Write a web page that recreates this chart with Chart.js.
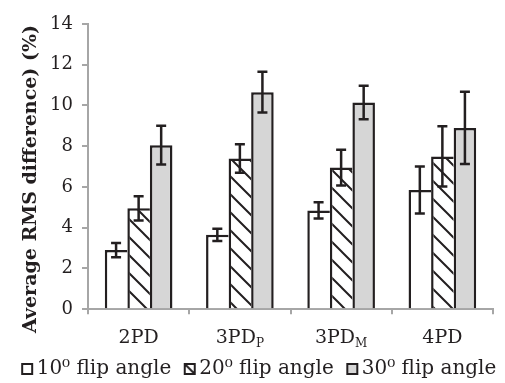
<!DOCTYPE html>
<html>
<head>
<meta charset="utf-8">
<script src="https://cdn.jsdelivr.net/npm/chart.js@4.4.1/dist/chart.umd.min.js"></script>
<style>
  html, body { margin: 0; padding: 0; background: #fff; }
  #wrap { width: 505px; height: 383px; }
</style>
</head>
<body>
<div id="wrap"><canvas id="rmsChart"></canvas></div>
<script>
// categories (base text + subscript) and series
const categoryNames = ['2PD', '3PD', '3PD', '4PD'];
const categorySubs = ['', 'P', 'M', ''];
const seriesLabels = ['10\u2070 flip angle', '20\u2070 flip angle', '30\u2070 flip angle'];

const flip10 = [2.9, 3.65, 4.85, 5.85];
const flip10Err = [0.35, 0.3, 0.4, 1.15];
const flip20 = [4.95, 7.4, 6.95, 7.5];
const flip20Err = [0.6, 0.7, 0.88, 1.48];
const flip30 = [8.05, 10.65, 10.15, 8.9];
const flip30Err = [0.95, 1.0, 0.82, 1.77];

const yTicks = [0, 2, 4, 6, 8, 10, 12, 14];
const yTitle = 'Average RMS difference) (%)';

const INK = '#231f20';
const AXIS = '#a6a6a6';
const GREY = '#d6d6d6';
const SERIF = 'DejaVu Serif';

Chart.defaults.font.family = SERIF;
Chart.defaults.color = INK;

const ctx = document.getElementById('rmsChart').getContext('2d');

// legend spacing: one row, items 163px apart
const LEGEND_FONT = 20;
const LEGEND_GAP = 0;
const LEGEND_STEP = 163;
ctx.font = LEGEND_FONT + 'px ' + SERIF;
const legendTextW = ctx.measureText(seriesLabels[0]).width;
const legendBox = Math.max(1, Math.round(LEGEND_STEP - LEGEND_GAP - LEGEND_FONT / 2 - legendTextW));

// diagonal hatch for the 20° bars
function makeHatch() {
  const s = 18;
  const c = document.createElement('canvas');
  c.width = s; c.height = s;
  const g = c.getContext('2d');
  g.fillStyle = '#fff';
  g.fillRect(0, 0, s, s);
  g.strokeStyle = INK;
  g.lineWidth = 2;
  g.beginPath();
  g.moveTo(-3, -3); g.lineTo(s + 3, s + 3);
  g.moveTo(-3, s - 3); g.lineTo(3, s + 3);
  g.moveTo(s - 3, -3); g.lineTo(s + 3, 3);
  g.stroke();
  return ctx.createPattern(c, 'repeat');
}

// legend square, drawn just left of the text
function makeIcon(fill, hatched) {
  const w = legendBox + 17;
  const c = document.createElement('canvas');
  c.width = w; c.height = 12;
  const g = c.getContext('2d');
  const x0 = legendBox + 4, y0 = 1, s = 10;
  g.fillStyle = fill;
  g.fillRect(x0, y0, s, s);
  g.strokeStyle = INK;
  g.lineWidth = 2;
  if (hatched) {
    g.beginPath();
    g.moveTo(x0, y0); g.lineTo(x0 + s, y0 + s);
    g.stroke();
  }
  g.strokeRect(x0, y0, s, s);
  return c;
}

const hatch = makeHatch();
const icons = [makeIcon('#fff', false), makeIcon('#fff', true), makeIcon(GREY, false)];

// error bars drawn on top of each bar
const errorBars = {
  id: 'errorBars',
  afterDatasetsDraw(chart) {
    const y = chart.scales.y;
    const c = chart.ctx;
    c.save();
    c.strokeStyle = INK;
    c.lineWidth = 2.5;
    chart.data.datasets.forEach((ds, di) => {
      chart.getDatasetMeta(di).data.forEach((bar, i) => {
        const hi = y.getPixelForValue(ds.data[i] + ds.errors[i]);
        const lo = y.getPixelForValue(ds.data[i] - ds.errors[i]);
        c.beginPath();
        c.moveTo(bar.x, hi); c.lineTo(bar.x, lo);
        c.moveTo(bar.x - 5, hi); c.lineTo(bar.x + 5, hi);
        c.moveTo(bar.x - 5, lo); c.lineTo(bar.x + 5, lo);
        c.stroke();
      });
    });
    c.restore();
  }
};

// category labels with subscripts, and the rotated y title
const axisText = {
  id: 'axisText',
  afterDraw(chart) {
    const x = chart.scales.x;
    const c = chart.ctx;
    c.save();
    c.fillStyle = INK;
    c.textBaseline = 'alphabetic';
    c.textAlign = 'left';
    categoryNames.forEach((name, i) => {
      c.font = '19px ' + SERIF;
      const w1 = c.measureText(name).width;
      c.font = '12px ' + SERIF;
      const w2 = categorySubs[i] ? c.measureText(categorySubs[i]).width : 0;
      const left = x.getPixelForValue(i) - (w1 + w2) / 2;
      const base = x.top + 34;
      c.font = '19px ' + SERIF;
      c.fillText(name, left, base);
      if (w2) {
        c.font = '12px ' + SERIF;
        c.fillText(categorySubs[i], left + w1, base + 4);
      }
    });
    c.translate(36, 179);
    c.rotate(-Math.PI / 2);
    c.font = 'bold 19px ' + SERIF;
    c.textAlign = 'center';
    c.fillText(yTitle, 0, 0);
    c.restore();
  }
};

new Chart(ctx, {
  type: 'bar',
  data: {
    labels: categoryNames.map((n, i) => n + categorySubs[i]),
    datasets: [{
      label: seriesLabels[0],
      data: flip10,
      errors: flip10Err,
      backgroundColor: '#fff',
      borderColor: INK,
      borderWidth: { top: 2.5, left: 2.5, right: 0, bottom: 0 }
    }, {
      label: seriesLabels[1],
      data: flip20,
      errors: flip20Err,
      backgroundColor: hatch,
      borderColor: INK,
      borderWidth: { top: 2.5, left: 2.5, right: 0, bottom: 0 }
    }, {
      label: seriesLabels[2],
      data: flip30,
      errors: flip30Err,
      backgroundColor: GREY,
      borderColor: INK,
      borderWidth: { top: 2.5, left: 2.5, right: 2.5, bottom: 0 }
    }]
  },
  options: {
    responsive: true,
    maintainAspectRatio: false,
    animation: false,
    events: [],
    layout: { padding: { left: 0, right: 0, top: 24, bottom: -6 } },
    datasets: {
      bar: { categoryPercentage: 0.668, barPercentage: 1.0 }
    },
    plugins: {
      tooltip: { enabled: false },
      legend: {
        position: 'bottom',
        labels: {
          usePointStyle: true,
          pointStyleWidth: legendBox,
          padding: LEGEND_GAP,
          color: INK,
          font: { family: SERIF, size: LEGEND_FONT, weight: 'normal' },
          generateLabels: chart => chart.data.datasets.map((ds, i) => ({
            text: ds.label,
            pointStyle: icons[i],
            fillStyle: '#fff',
            strokeStyle: INK,
            lineWidth: 0,
            fontColor: INK,
            datasetIndex: i
          }))
        }
      }
    },
    scales: {
      x: {
        grid: {
          drawOnChartArea: false,
          drawTicks: true,
          tickLength: 5,
          color: AXIS,
          lineWidth: 2
        },
        border: { color: AXIS, width: 2 },
        ticks: {
          color: 'rgba(0,0,0,0)',
          font: { family: SERIF, size: 19 },
          padding: 11
        }
      },
      y: {
        min: 0,
        max: 14,
        afterBuildTicks: scale => { scale.ticks = yTicks.map(v => ({ value: v })); },
        afterFit: scale => { scale.width = 88; },
        grid: {
          drawOnChartArea: false,
          drawTicks: true,
          tickLength: 6,
          color: AXIS,
          lineWidth: 2
        },
        border: { color: AXIS, width: 2 },
        ticks: {
          color: INK,
          padding: 9,
          font: { family: SERIF, size: 18 }
        }
      },
      // empty right-hand strip so the plot ends short of the edge
      yRight: {
        position: 'right',
        afterFit: scale => { scale.width = 12; },
        grid: { display: false },
        border: { display: false },
        ticks: { display: false }
      }
    }
  },
  plugins: [errorBars, axisText]
});
</script>
</body>
</html>
